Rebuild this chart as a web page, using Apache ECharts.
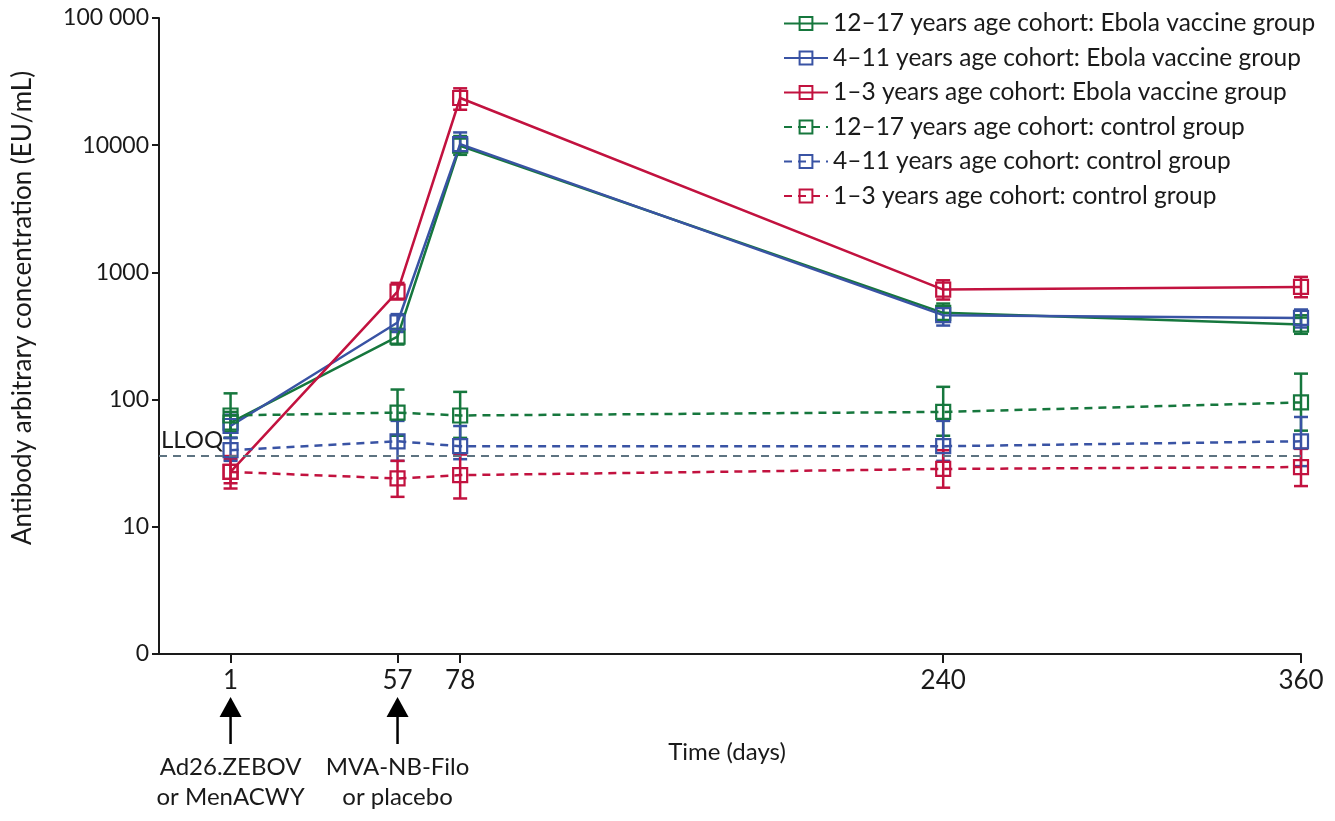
<!DOCTYPE html>
<html>
<head>
<meta charset="utf-8">
<script src="https://cdn.jsdelivr.net/npm/echarts@6/dist/echarts.min.js"></script>
<style>
  html, body { margin: 0; background: #fff; }
  #chart { width: 1335px; height: 821px; }
</style>
</head>
<body>
<div id="chart"></div>
<script>
// time points (days) and dose days
const days = [1, 57, 78, 240, 360];
const doseDays = [1, 57];
const doseLabels = ['Ad26.ZEBOV\nor MenACWY', 'MVA-NB-Filo\nor placebo'];
const LLOQ = 36.11;

const names = [
  '12–17 years age cohort: Ebola vaccine group',
  '4–11 years age cohort: Ebola vaccine group',
  '1–3 years age cohort: Ebola vaccine group',
  '12–17 years age cohort: control group',
  '4–11 years age cohort: control group',
  '1–3 years age cohort: control group'
];

// geometric means (EU/mL)
const vac12to17 = [66, 313, 9900, 481, 389];
const vac4to11 = [62, 404, 10200, 461, 439];
const vac1to3 = [27, 707, 23500, 733, 769];
const ctl12to17 = [75, 79, 75, 80, 95];
const ctl4to11 = [40, 47, 43, 43, 47];
const ctl1to3 = [27, 24, 25.5, 28.5, 29.5];

// 95% CI lower / upper
const vac12to17Lo = [56, 271, 8400, 413, 329];
const vac12to17Hi = [80, 360, 11800, 569, 460];
const vac4to11Lo = [50, 340, 8900, 382, 369];
const vac4to11Hi = [76, 470, 12600, 540, 511];
const vac1to3Lo = [22, 612, 19000, 612, 638];
const vac1to3Hi = [34, 827, 28000, 867, 922];
const ctl12to17Lo = [50, 52, 50, 52, 57];
const ctl12to17Hi = [112, 120, 115, 126, 160];
const ctl4to11Lo = [33, 33, 34, 33, 30];
const ctl4to11Hi = [50, 68, 62, 68, 73];
const ctl1to3Lo = [20, 17.2, 16.7, 20.3, 20.9];
const ctl1to3Hi = [36, 33, 37, 40, 41];

const GREEN = '#16773d', BLUE = '#3953a4', RED = '#c2123f';
const FONT = 'Lato';

const groups = [
  {name: names[0], mean: vac12to17, lo: vac12to17Lo, hi: vac12to17Hi, color: GREEN, dashed: false},
  {name: names[1], mean: vac4to11, lo: vac4to11Lo, hi: vac4to11Hi, color: BLUE, dashed: false},
  {name: names[2], mean: vac1to3, lo: vac1to3Lo, hi: vac1to3Hi, color: RED, dashed: false},
  {name: names[3], mean: ctl12to17, lo: ctl12to17Lo, hi: ctl12to17Hi, color: GREEN, dashed: true},
  {name: names[4], mean: ctl4to11, lo: ctl4to11Lo, hi: ctl4to11Hi, color: BLUE, dashed: true},
  {name: names[5], mean: ctl1to3, lo: ctl1to3Lo, hi: ctl1to3Hi, color: RED, dashed: true}
];

function errorBars(color) {
  return function (params, api) {
    const x = api.value(0);
    const lo = api.coord([x, api.value(1)]);
    const hi = api.coord([x, api.value(2)]);
    const w = 7;
    const style = {stroke: color, lineWidth: 2.5, fill: null};
    return {
      type: 'group',
      children: [
        {type: 'line', shape: {x1: lo[0], y1: lo[1], x2: hi[0], y2: hi[1]}, style: style},
        {type: 'line', shape: {x1: lo[0] - w, y1: lo[1], x2: lo[0] + w, y2: lo[1]}, style: style},
        {type: 'line', shape: {x1: hi[0] - w, y1: hi[1], x2: hi[0] + w, y2: hi[1]}, style: style}
      ]
    };
  };
}

const series = [];
groups.forEach(g => {
  series.push({
    type: 'custom',
    name: 'ci-' + g.name,
    renderItem: errorBars(g.color),
    data: days.map((d, i) => [d, g.lo[i], g.hi[i]]),
    encode: {x: 0, y: [1, 2]},
    z: 2,
    silent: true
  });
});
groups.forEach(g => {
  series.push({
    type: 'line',
    name: g.name,
    data: days.map((d, i) => [d, g.mean[i]]),
    symbol: 'rect',
    symbolSize: 14,
    itemStyle: {color: 'rgba(255,255,255,0)', borderColor: g.color, borderWidth: 2.2},
    lineStyle: {color: g.color, width: 2.5, type: g.dashed ? [8, 6] : 'solid'},
    z: 3
  });
});
// LLOQ reference line
series[series.length - 1].markLine = {
  silent: true,
  symbol: 'none',
  data: [{yAxis: LLOQ}],
  lineStyle: {color: '#5d7381', width: 2, type: [8, 6]},
  label: {
    formatter: 'LLOQ', position: 'insideStartTop', distance: [2, 4],
    color: '#1a1a1a', fontFamily: FONT, fontSize: 24
  }
};

const chart = echarts.init(document.getElementById('chart'));
chart.setOption({
  animation: false,
  backgroundColor: '#fff',
  grid: {left: 159, right: 34, top: 18, bottom: 167},
  legend: {
    data: names,
    orient: 'vertical',
    left: 778,
    top: 6,
    itemWidth: 44,
    itemHeight: 16,
    itemGap: 9.5,
    textStyle: {fontFamily: FONT, fontSize: 24.5, color: '#1a1a1a', lineHeight: 24}
  },
  xAxis: {
    type: 'value',
    min: -23,
    max: 360,
    splitLine: {show: false},
    axisLine: {lineStyle: {color: '#1a1a1a', width: 2}},
    axisTick: {customValues: days, length: 9, lineStyle: {color: '#1a1a1a', width: 2}},
    axisLabel: {customValues: days, margin: 14, fontFamily: FONT, fontSize: 26, color: '#1a1a1a'}
  },
  yAxis: {
    type: 'log',
    logBase: 10,
    min: 1,
    max: 100000,
    splitLine: {show: false},
    axisLine: {show: true, onZero: false, lineStyle: {color: '#1a1a1a', width: 2}},
    axisTick: {show: true, length: 7, lineStyle: {color: '#1a1a1a', width: 2}},
    axisLabel: {
      margin: 10, fontFamily: FONT, fontSize: 23, color: '#1a1a1a',
      formatter: v => {
        const r = Math.round(v);
        if (r === 1) return '0';
        if (r === 100000) return '100 000';
        return String(r);
      }
    }
  },
  series: series
});

// arrows + dose annotations, placed through the x scale
const baseY = chart.convertToPixel({yAxisIndex: 0}, 1);
const graphics = [
  {
    type: 'text',
    style: {text: 'Antibody arbitrary concentration (EU/mL)', fontFamily: FONT, fontSize: 26,
            fill: '#1a1a1a', align: 'center', verticalAlign: 'middle'},
    x: 23, y: 308, rotation: Math.PI / 2
  },
  {
    type: 'text',
    style: {text: 'Time (days)', fontFamily: FONT, fontSize: 24, fill: '#1a1a1a',
            align: 'center', verticalAlign: 'middle'},
    x: 727, y: 752
  }
];
doseDays.forEach((d, i) => {
  const px = chart.convertToPixel({xAxisIndex: 0}, d);
  const tipY = baseY + 43;
  graphics.push({
    type: 'polygon',
    shape: {points: [[px, tipY], [px - 11, tipY + 20], [px + 11, tipY + 20]]},
    style: {fill: '#000'}
  });
  graphics.push({
    type: 'line',
    shape: {x1: px, y1: tipY + 18, x2: px, y2: tipY + 47},
    style: {stroke: '#000', lineWidth: 2.5}
  });
  graphics.push({
    type: 'text',
    style: {text: doseLabels[i], fontFamily: FONT, fontSize: 24, lineHeight: 30, fill: '#1a1a1a',
            align: 'center', verticalAlign: 'top'},
    x: px, y: tipY + 55
  });
});
chart.setOption({graphic: graphics});
</script>
</body>
</html>
